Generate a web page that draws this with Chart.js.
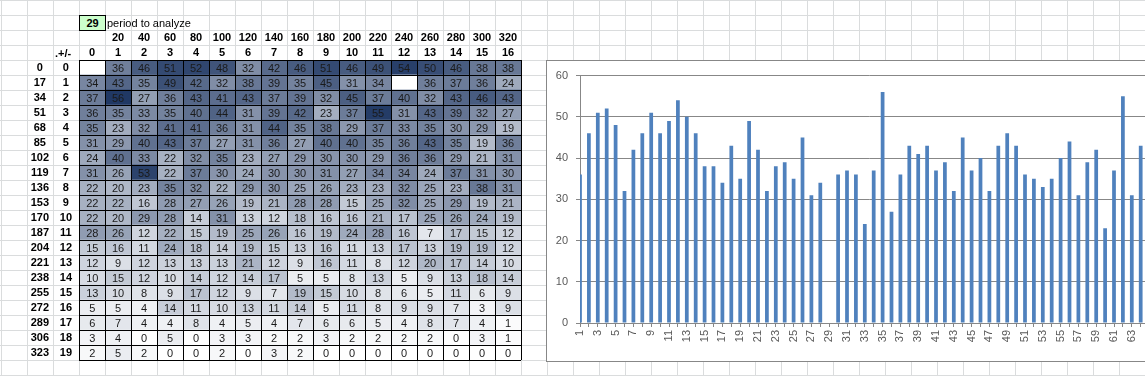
<!DOCTYPE html>
<html>
<head>
<meta charset="utf-8">
<script src="https://cdn.jsdelivr.net/npm/chart.js@4.4.1/dist/chart.umd.min.js"></script>
<style>
  html, body { margin: 0; padding: 0; }
  body {
    width: 1145px; height: 376px; overflow: hidden; position: relative;
    background-color: #fff;
    background-image: linear-gradient(to right, #dadcdd 1px, transparent 1px),
                      linear-gradient(to bottom, #dadcdd 1px, transparent 1px);
    background-size: 26px 15px;
    background-position: 1px 0;
    font-family: 'Liberation Sans', Arial, sans-serif;
  }
  #table { position: absolute; left: 0; top: 0; }
  .param {
    position: absolute; left: 79px; top: 15px; width: 27px; height: 16px; box-sizing: border-box;
    border: 1px solid #000; background: #ccffcc; font-size: 11px; font-weight: bold;
    text-align: center; line-height: 14px;
  }
  .note { position: absolute; left: 107px; top: 16px; font-size: 11px; line-height: 14px; }
  .sign { position: absolute; left: 55px; top: 46px; font-size: 11px; font-weight: bold; line-height: 14px; }
  #box {
    position: absolute; left: 546px; top: 60px; width: 640px; height: 300px;
    border: 1px solid #878787; background: #fff;
  }
</style>
</head>
<body>
<canvas id="table" width="547" height="376"></canvas>
<div class="param" id="period"></div>
<div class="note">period to analyze</div>
<div class="sign">.+/-</div>
<div id="box"><canvas id="bars" width="640" height="300"></canvas></div>
<script>
(
    function () {
        const period = 29;
        const rowStarts = ['0', '17', '34', '51', '68', '85', '102', '119', '136', '153',
            '170', '187', '204', '221', '238', '255', '272', '289', '306', '323'];
        const rowOffsets = ['0', '1', '2', '3', '4', '5', '6', '7', '8', '9',
            '10', '11', '12', '13', '14', '15', '16', '17', '18', '19'];
        const colIndex = ['0', '1', '2', '3', '4', '5', '6', '7', '8',
            '9', '10', '11', '12', '13', '14', '15', '16'];
        const colPeriods = ['', '20', '40', '60', '80', '100', '120', '140', '160',
            '180', '200', '220', '240', '260', '280', '300', '320'];

        // counts per row (rowOffsets) and column (colIndex), null = empty cell
        const counts = [
            [null, 36, 46, 51, 52, 48, 32, 42, 46, 51, 46, 49, 54, 50, 46, 38, 38],
            [34, 43, 35, 49, 42, 32, 38, 39, 35, 45, 31, 34, null, 36, 37, 36, 24],
            [37, 56, 27, 36, 43, 41, 43, 37, 39, 32, 45, 37, 40, 32, 43, 46, 43],
            [36, 35, 33, 35, 40, 44, 31, 39, 42, 23, 37, 55, 31, 43, 39, 32, 27],
            [35, 23, 32, 41, 41, 36, 31, 44, 35, 38, 29, 37, 33, 35, 30, 29, 19],
            [31, 29, 40, 43, 37, 27, 31, 36, 27, 40, 40, 35, 36, 43, 35, 19, 36],
            [24, 40, 33, 22, 32, 35, 23, 27, 29, 30, 30, 29, 36, 36, 29, 21, 31],
            [31, 26, 53, 22, 37, 30, 24, 30, 30, 31, 27, 34, 34, 24, 37, 31, 30],
            [22, 20, 23, 35, 32, 22, 29, 30, 25, 26, 23, 23, 32, 25, 23, 38, 31],
            [22, 22, 16, 28, 27, 26, 19, 21, 28, 28, 15, 25, 32, 25, 29, 19, 21],
            [22, 20, 29, 28, 14, 31, 13, 12, 18, 16, 16, 21, 17, 25, 26, 24, 19],
            [28, 26, 12, 22, 15, 19, 25, 26, 16, 19, 24, 28, 16, 7, 17, 15, 12],
            [15, 16, 11, 24, 18, 14, 19, 15, 13, 16, 11, 13, 17, 13, 19, 19, 12],
            [12, 9, 12, 13, 13, 13, 21, 12, 9, 16, 11, 8, 12, 20, 17, 14, 10],
            [10, 15, 12, 10, 14, 12, 14, 17, 5, 5, 8, 13, 5, 9, 13, 18, 14],
            [13, 10, 8, 9, 17, 12, 9, 7, 19, 15, 10, 8, 6, 5, 11, 6, 9],
            [5, 5, 4, 14, 11, 10, 13, 11, 14, 5, 11, 8, 9, 9, 7, 3, 9],
            [6, 7, 4, 4, 8, 4, 5, 4, 7, 6, 6, 5, 4, 8, 7, 4, 1],
            [3, 4, 0, 5, 0, 3, 3, 2, 2, 3, 2, 2, 2, 2, 0, 3, 1],
            [2, 5, 2, 0, 0, 2, 0, 3, 2, 0, 0, 0, 0, 0, 0, 0, 0]
        ];

        const barLabels = ['1', '2', '3', '4', '5', '6', '7', '8', '9', '10', '11', '12', '13', '14', '15', '16',
            '17', '18', '19', '20', '21', '22', '23', '24', '25', '26', '27', '28', '29', '30', '31', '32', '33',
            '34', '35', '36', '37', '38', '39', '40', '41', '42', '43', '44', '45', '46', '47', '48', '49', '50',
            '51', '52', '53', '54', '55', '56', '57', '58', '59', '60', '61', '62', '63', '64', '65', '66'];
        const barValues = [36, 46, 51, 52, 48, 32, 42, 46, 51, 46, 49, 54, 50, 46, 38, 38,
            34, 43, 35, 49, 42, 32, 38, 39, 35, 45, 31, 34, null, 36, 37, 36, 24,
            37, 56, 27, 36, 43, 41, 43, 37, 39, 32, 45, 37, 40, 32, 43, 46, 43,
            36, 35, 33, 35, 40, 44, 31, 39, 42, 23, 37, 55, 31, 43, 39, 32];

        document.getElementById('period').textContent = period;

        const maxCount = Math.max(...counts.flat().filter(v => v !== null));
        const dark = [32, 56, 100];
        function cellColor(v) {
            if (v === null) return '#ffffff';
            const t = v / maxCount;
            const c = dark.map(d => Math.round(255 + (d - 255) * t));
            return `rgb(${c[0]},${c[1]},${c[2]})`;
        }

        const fontFamily = "'Liberation Sans', Arial, sans-serif";
        const boldFont = { family: fontFamily, size: 11, weight: 'bold' };
        const headAxis = (labels, weight, position, fit) => ({
            type: 'category',
            labels: labels,
            position: position,
            weight: weight,
            offset: true,
            grid: { display: false, drawTicks: false, offset: true },
            border: { display: false },
            ticks: { autoSkip: false, color: '#000', font: boldFont, padding: 0, maxRotation: 0, minRotation: 0 },
            afterFit: fit
        });

        const cellText = {
            id: 'cellText',
            afterDatasetsDraw(chart) {
                const ctx = chart.ctx;
                ctx.save();
                ctx.font = `11px ${fontFamily}`;
                ctx.fillStyle = '#1a1a1a';
                ctx.textAlign = 'center';
                ctx.textBaseline = 'middle';
                chart.data.datasets.forEach((ds, c) => {
                    chart.getDatasetMeta(c).data.forEach((bar, r) => {
                        const v = counts[r][c];
                        if (v === null) return;
                        const p = bar.getProps(['x', 'base', 'y'], true);
                        ctx.fillText(String(v), (p.x + p.base) / 2, p.y + 1);
                    });
                });
                ctx.restore();
            }
        };

        new Chart(
            document.getElementById('table'),
            {
                type: 'bar',
                data: {
                    labels: rowOffsets,
                    datasets: colIndex.map((col, ci) => ({
                        label: col,
                        data: rowOffsets.map(() => 1),
                        backgroundColor: counts.map(row => cellColor(row[ci])),
                        borderWidth: 0,
                        barPercentage: 1,
                        categoryPercentage: 1
                    }))
                },
                options: {
                    indexAxis: 'y',
                    responsive: false,
                    animation: false,
                    events: [],
                    layout: { padding: { left: 27, top: 30, right: 26, bottom: 16 } },
                    plugins: { legend: { display: false }, tooltip: { enabled: false } },
                    scales: {
                        x: {
                            type: 'linear',
                            stacked: true,
                            min: 0,
                            max: 17,
                            position: 'bottom',
                            ticks: { display: false, stepSize: 1 },
                            grid: { color: '#000', drawTicks: false, z: 1 },
                            border: { display: false },
                            afterFit: s => { s.height = 0; }
                        },
                        y: {
                            type: 'category',
                            stacked: true,
                            position: 'left',
                            weight: 1,
                            offset: true,
                            grid: { color: '#000', drawTicks: false, offset: true, z: 1 },
                            border: { color: '#000', z: 1 },
                            ticks: { autoSkip: false, color: '#000', font: boldFont, crossAlign: 'center', padding: 7 },
                            afterFit: s => { s.width = 26; }
                        },
                        yStart: {
                            type: 'category',
                            labels: rowStarts,
                            position: 'left',
                            weight: 2,
                            offset: true,
                            grid: { display: false, drawTicks: false, offset: true },
                            border: { display: false },
                            ticks: { autoSkip: false, color: '#000', font: boldFont, crossAlign: 'center', padding: 4 },
                            afterFit: s => { s.width = 26; }
                        },
                        xIdx: headAxis(colIndex, 1, 'top', s => { s.height = 15; }),
                        xPer: headAxis(colPeriods, 2, 'top', s => { s.height = 15; })
                    }
                },
                plugins: [cellText]
            }
        );

        const axisFont = { family: fontFamily, size: 11 };
        new Chart(
            document.getElementById('bars'),
            {
                type: 'bar',
                data: {
                    labels: barLabels,
                    datasets: [{
                        data: barValues,
                        backgroundColor: '#4f81bd',
                        barPercentage: 0.42,
                        categoryPercentage: 1,
                        clip: 0
                    }]
                },
                options: {
                    responsive: false,
                    animation: false,
                    events: [],
                    layout: { padding: { top: 13.5, right: 28.5, left: 0, bottom: 0 } },
                    plugins: { legend: { display: false }, tooltip: { enabled: false } },
                    scales: {
                        x: {
                            offset: false,
                            grid: { offset: false, drawOnChartArea: false, tickLength: 4, color: '#878787' },
                            border: { color: '#878787' },
                            ticks: {
                                autoSkip: false,
                                minRotation: 90,
                                maxRotation: 90,
                                padding: 3,
                                color: '#595959',
                                font: axisFont,
                                callback: (v, i) => i % 2 === 0 ? barLabels[i] : ''
                            },
                            afterFit: s => { s.height = 38; }
                        },
                        y: {
                            min: 0,
                            max: 60,
                            ticks: { stepSize: 10, padding: 8, color: '#595959', font: axisFont },
                            grid: { color: '#878787', tickLength: 4 },
                            border: { color: '#878787' },
                            afterFit: s => { s.width = 33; }
                        }
                    }
                }
            }
        );
    })();
</script>
</body>
</html>
